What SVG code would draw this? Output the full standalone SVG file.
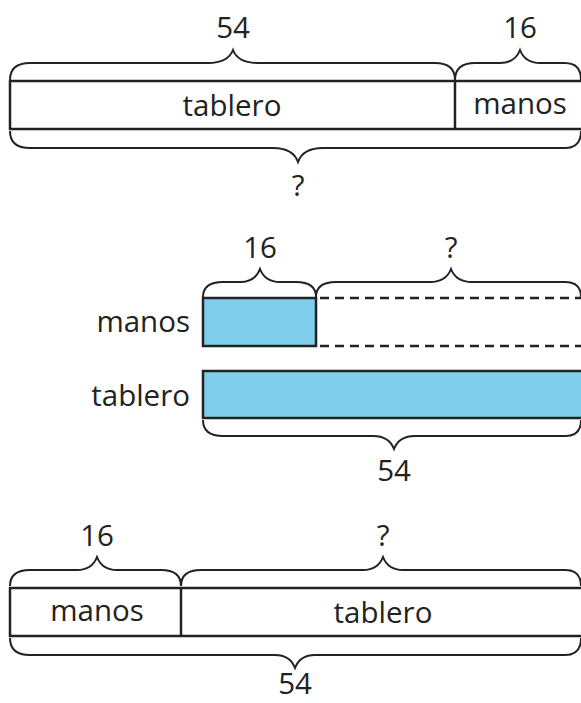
<svg xmlns="http://www.w3.org/2000/svg" width="581" height="703" viewBox="0 0 581 703">
<style>
text{font-family:"Open Sans","Noto Sans",sans-serif;font-size:29.5px;fill:#222;text-anchor:middle;dominant-baseline:central}
.box{fill:#fff;stroke:#222;stroke-width:2.5}
.blue{fill:#7fcfec;stroke:#222;stroke-width:2.5}
.br{fill:none;stroke:#222;stroke-width:2}
.dash{fill:none;stroke:#222;stroke-width:2.5;stroke-dasharray:9 6}
.lbl{text-anchor:end}
</style>
<g id="diagram1">
<rect class="box" x="10" y="81" width="575" height="48"/>
<line class="box" x1="455" y1="81" x2="455" y2="129"/>
<text x="232" y="104">tablero</text>
<text x="520" y="102">manos</text>
<path class="br" d="M10,80 Q10,63 30,63 L208,63 Q228,63 233,50 Q238,63 258,63 L435,63 Q455,63 455,80"/>
<text x="233" y="26">54</text>
<path class="br" d="M455,80 Q455,63 475,63 L500,63 Q515,63 520,50 Q525,63 540,63 L565,63 Q581,63 581,80"/>
<text x="520" y="26">16</text>
<path class="br" d="M10,131 Q10,148 30,148 L273,148 Q293,148 298,162 Q303,148 323,148 L565,148 Q581,148 581,131"/>
<text x="298" y="184">?</text>
</g>
<g id="diagram2">
<text class="lbl" x="190" y="320">manos</text>
<text class="lbl" x="190" y="394">tablero</text>
<rect class="blue" x="203" y="298" width="113" height="48"/>
<line class="dash" x1="320" y1="298" x2="581" y2="298"/>
<line class="dash" x1="320" y1="346" x2="581" y2="346"/>
<rect class="blue" x="203" y="371" width="382" height="47"/>
<path class="br" d="M203,297 Q203,282 223,282 L240,282 Q255,282 260,269 Q265,282 280,282 L296,282 Q316,282 316,297"/>
<text x="260" y="246">16</text>
<path class="br" d="M316,297 Q316,282 336,282 L430,282 Q446,282 451,269 Q456,282 472,282 L565,282 Q581,282 581,297"/>
<text x="451" y="246">?</text>
<path class="br" d="M203,420 Q203,436 223,436 L373,436 Q389,436 394,449 Q399,436 415,436 L565,436 Q581,436 581,420"/>
<text x="394" y="469">54</text>
</g>
<g id="diagram3">
<rect class="box" x="10" y="588" width="575" height="48"/>
<line class="box" x1="181" y1="588" x2="181" y2="636"/>
<text x="97" y="609">manos</text>
<text x="383" y="611">tablero</text>
<path class="br" d="M10,586 Q10,570 30,570 L77,570 Q92,570 97,557 Q102,570 117,570 L161,570 Q181,570 181,586"/>
<text x="97" y="534">16</text>
<path class="br" d="M181,586 Q181,570 201,570 L363,570 Q378,570 383,557 Q388,570 403,570 L565,570 Q581,570 581,586"/>
<text x="383" y="534">?</text>
<path class="br" d="M10,638 Q10,655 30,655 L275,655 Q290,655 295,668 Q300,655 315,655 L565,655 Q581,655 581,638"/>
<text x="295" y="682">54</text>
</g>
</svg>
